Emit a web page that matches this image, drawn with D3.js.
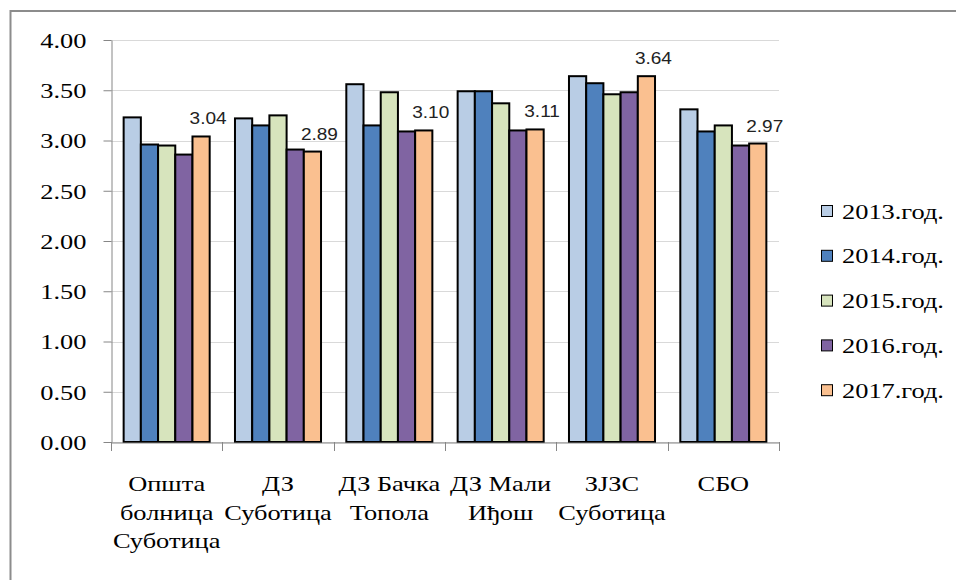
<!DOCTYPE html>
<html>
<head>
<meta charset="utf-8">
<script src="https://cdn.jsdelivr.net/npm/d3@7"></script>
<style>
  html, body { margin: 0; padding: 0; background: #fff; }
  svg { display: block; }
</style>
</head>
<body>
<svg id="chart" width="956" height="580"></svg>
<script>
const categories = ["Општа болница Суботица", "ДЗ Суботица", "ДЗ Бачка Топола", "ДЗ Мали Иђош", "ЗЈЗС Суботица", "СБО"];
const seriesNames = ["2013.год.", "2014.год.", "2015.год.", "2016.год.", "2017.год."];
const v2013 = [3.23, 3.22, 3.56, 3.49, 3.64, 3.31];
const v2014 = [2.96, 3.15, 3.15, 3.49, 3.57, 3.09];
const v2015 = [2.95, 3.25, 3.48, 3.37, 3.46, 3.15];
const v2016 = [2.86, 2.91, 3.09, 3.10, 3.48, 2.95];
const v2017 = [3.04, 2.89, 3.10, 3.11, 3.64, 2.97];
const yTicks = [0, 0.5, 1, 1.5, 2, 2.5, 3, 3.5, 4];
const colors = ["#b9cde5", "#4f81bd", "#d7e4bd", "#8064a2", "#fac090"];
const labeledSeries = 4;

const seriesValues = [v2013, v2014, v2015, v2016, v2017];
const serif = "'Liberation Serif', 'Times New Roman', serif";
const SX = 1.2;

const svg = d3.select("#chart");
svg.append("rect").attr("width", 956).attr("height", 580).attr("fill", "#fff");
svg.append("rect").attr("x", 10.5).attr("y", 11).attr("width", 1000).attr("height", 1000)
  .attr("fill", "none").attr("stroke", "#8c8c8c").attr("stroke-width", 2);

const x0 = d3.scaleBand().domain(categories).range([111, 779]).padding(0);
const x1 = d3.scaleBand().domain(seriesNames).range([0, x0.bandwidth()]).paddingInner(0).paddingOuter(0.735);
const y = d3.scaleLinear().domain([0, 4]).range([442, 40]);

// gridlines
svg.append("g").selectAll("line").data(yTicks).join("line")
  .attr("x1", 111).attr("x2", 779)
  .attr("y1", d => Math.round(y(d)) + 0.5).attr("y2", d => Math.round(y(d)) + 0.5)
  .attr("stroke", "#d9d9d9").attr("stroke-width", 1);

// y axis
const yAxis = svg.append("g").attr("transform", "translate(111.5,0)")
  .call(d3.axisLeft(y).tickValues(yTicks).tickSize(8).tickSizeOuter(0).tickFormat(d3.format(".2f")));
yAxis.select(".domain").attr("stroke", "#868686");
yAxis.selectAll(".tick line").attr("stroke", "#868686");
yAxis.selectAll(".tick text")
  .attr("font-family", serif).attr("font-size", 22).attr("fill", "#000")
  .attr("x", -25 / SX).attr("dy", "0.34em")
  .attr("transform", `scale(${SX},1)`);

// bars
const groups = svg.append("g").selectAll("g").data(categories).join("g")
  .attr("transform", d => `translate(${x0(d)},0)`);
groups.selectAll("rect")
  .data((c, ci) => seriesNames.map((s, si) => ({ s, si, v: seriesValues[si][ci] })))
  .join("rect")
  .attr("x", d => x1(d.s))
  .attr("y", d => y(d.v))
  .attr("width", x1.bandwidth())
  .attr("height", d => y(0) - y(d.v))
  .attr("fill", d => colors[d.si])
  .attr("stroke", "#000").attr("stroke-width", 2);

// x axis
const xAxis = svg.append("g").attr("transform", "translate(0,442.5)")
  .call(d3.axisBottom(x0).tickSize(0).tickFormat(""));
xAxis.select(".domain").attr("stroke", "#868686");
const bounds = categories.map(c => x0(c)).concat([x0.range()[1]]);
svg.append("g").selectAll("line").data(bounds).join("line")
  .attr("x1", d => Math.round(d) + 0.5).attr("x2", d => Math.round(d) + 0.5)
  .attr("y1", 442).attr("y2", 451).attr("stroke", "#868686");

// category labels (wrapped)
const catG = svg.append("g");
categories.forEach(c => {
  const cx = x0(c) + x0.bandwidth() / 2;
  const words = c.split(" ");
  const lines = [];
  let cur = "";
  const probe = catG.append("text").attr("font-family", serif).attr("font-size", 22);
  words.forEach(w => {
    const t = cur ? cur + " " + w : w;
    probe.text(t);
    if (probe.node().getComputedTextLength() * SX > 112 && cur) { lines.push(cur); cur = w; }
    else cur = t;
  });
  lines.push(cur);
  probe.remove();
  lines.forEach((ln, i) => {
    catG.append("text")
      .attr("transform", `translate(${cx},${491 + i * 28.6}) scale(${SX},1)`)
      .attr("text-anchor", "middle")
      .attr("font-family", serif).attr("font-size", 22).attr("fill", "#000")
      .text(ln);
  });
});

// data labels
svg.append("g").selectAll("text").data(categories).join("text")
  .attr("transform", (c, ci) => {
    const s = seriesNames[labeledSeries];
    const bx = x0(c) + x1(s) + x1.bandwidth() / 2 + 7;
    const by = y(seriesValues[labeledSeries][ci]) - 12;
    return `translate(${bx},${by}) scale(1.12,1)`;
  })
  .attr("text-anchor", "middle")
  .attr("font-family", "'Liberation Sans', Arial, sans-serif").attr("font-size", 17).attr("fill", "#222")
  .text((c, ci) => d3.format(".2f")(seriesValues[labeledSeries][ci]));

// legend
const leg = svg.append("g").selectAll("g").data(seriesNames).join("g")
  .attr("transform", (d, i) => `translate(821,${211 + i * 44.8})`);
leg.append("rect").attr("x", 0.5).attr("y", -5.5).attr("width", 11).attr("height", 11)
  .attr("fill", (d, i) => colors[i]).attr("stroke", "#000").attr("stroke-width", 1);
leg.append("text")
  .attr("transform", `translate(21,7.5) scale(${SX},1)`)
  .attr("font-family", serif).attr("font-size", 22).attr("fill", "#000")
  .text(d => d);
</script>
</body>
</html>
